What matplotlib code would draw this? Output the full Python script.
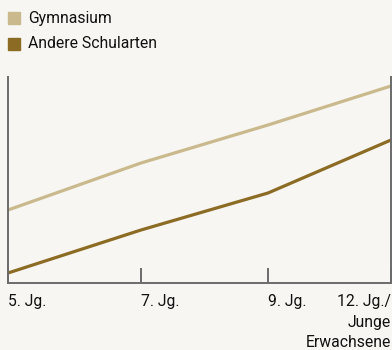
import matplotlib.pyplot as plt
from matplotlib.patches import Rectangle

# data (arbitrary scale, no y labels in the original)
stufen = ["5. Jg.", "7. Jg.", "9. Jg.", "12. Jg./\nJunge\nErwachsene"]
stufen_x = [0, 133, 260, 383]
gymnasium = [73, 120, 158, 197]
andere = [10, 53, 90, 143]

bg = "#f7f6f2"
c_gym = "#c9b98d"
c_and = "#8c6c24"
c_axis = "#6b6b6b"

plt.rcParams['font.family'] = ['Roboto', 'DejaVu Sans']

fig = plt.figure(figsize=(3.92, 3.5), dpi=100, facecolor=bg)
ax = fig.add_axes([8 / 392, (350 - 283) / 350, 383 / 392, 206 / 350])
ax.set_facecolor(bg)

ax.plot(stufen_x, gymnasium, color=c_gym, lw=2.3, solid_capstyle='butt')
ax.plot(stufen_x, andere, color=c_and, lw=2.3, solid_capstyle='butt')

ax.set_xlim(stufen_x[0], stufen_x[-1])
ax.set_ylim(0, 206)
ax.set_yticks([])
for s in ['left', 'right', 'bottom']:
    ax.spines[s].set_color(c_axis)
    ax.spines[s].set_linewidth(1.4)
ax.spines['top'].set_visible(False)

ax.set_xticks(stufen_x)
ax.set_xticklabels(stufen, fontsize=11.3, color="#111111")
ax.tick_params(axis='x', direction='in', length=11, width=1.4, color=c_axis, pad=8)
labels = ax.get_xticklabels()
for lab in labels[:-1]:
    lab.set_ha('left')
labels[-1].set_ha('right')
labels[-1].set_multialignment('right')
labels[-1].set_linespacing(1.45)

# legend
for i, (name, col) in enumerate([("Gymnasium", c_gym), ("Andere Schularten", c_and)]):
    y = 350 - 18 - i * 26
    fig.patches.append(Rectangle((8 / 392, (y - 6) / 350), 12 / 392, 12 / 350,
                                 transform=fig.transFigure, color=col))
    fig.text(28 / 392, y / 350, name, fontsize=11.3, va='center', ha='left', color="#111111")

fig.savefig("out.png", dpi=100, facecolor=bg)
